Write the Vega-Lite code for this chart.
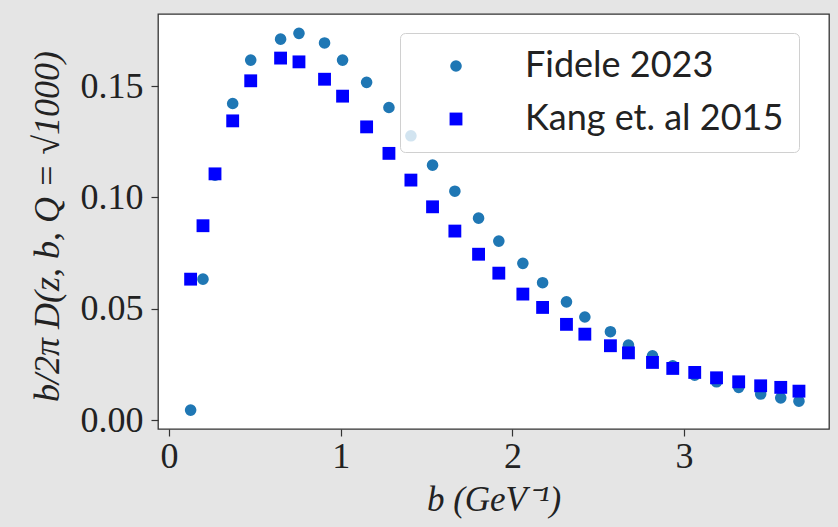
{
  "$schema": "https://vega.github.io/schema/vega-lite/v6.json",
  "width": 671,
  "height": 415,
  "autosize": "none",
  "padding": {"left": 158, "top": 14, "right": 9, "bottom": 98},
  "background": "#e5e5e5",
  "view": {"fill": "white", "stroke": "#333333", "strokeWidth": 1.3},
  "data": {
    "values": [
      {"s": "Fidele 2023", "b": 0.126, "v": 0.0045}, {"s": "Fidele 2023", "b": 0.198, "v": 0.0633}, {"s": "Fidele 2023", "b": 0.268, "v": 0.1100},
      {"s": "Fidele 2023", "b": 0.371, "v": 0.1422}, {"s": "Fidele 2023", "b": 0.476, "v": 0.1617}, {"s": "Fidele 2023", "b": 0.650, "v": 0.1711},
      {"s": "Fidele 2023", "b": 0.757, "v": 0.1737}, {"s": "Fidele 2023", "b": 0.906, "v": 0.1694}, {"s": "Fidele 2023", "b": 1.011, "v": 0.1617},
      {"s": "Fidele 2023", "b": 1.151, "v": 0.1517}, {"s": "Fidele 2023", "b": 1.281, "v": 0.1404}, {"s": "Fidele 2023", "b": 1.409, "v": 0.1277},
      {"s": "Fidele 2023", "b": 1.535, "v": 0.1145}, {"s": "Fidele 2023", "b": 1.665, "v": 0.1028}, {"s": "Fidele 2023", "b": 1.803, "v": 0.0907},
      {"s": "Fidele 2023", "b": 1.921, "v": 0.0804}, {"s": "Fidele 2023", "b": 2.061, "v": 0.0704}, {"s": "Fidele 2023", "b": 2.176, "v": 0.0617},
      {"s": "Fidele 2023", "b": 2.315, "v": 0.0531}, {"s": "Fidele 2023", "b": 2.422, "v": 0.0463}, {"s": "Fidele 2023", "b": 2.571, "v": 0.0397},
      {"s": "Fidele 2023", "b": 2.676, "v": 0.0337}, {"s": "Fidele 2023", "b": 2.816, "v": 0.0289}, {"s": "Fidele 2023", "b": 2.934, "v": 0.0244},
      {"s": "Fidele 2023", "b": 3.062, "v": 0.0202}, {"s": "Fidele 2023", "b": 3.189, "v": 0.0172}, {"s": "Fidele 2023", "b": 3.318, "v": 0.0147},
      {"s": "Fidele 2023", "b": 3.446, "v": 0.0117}, {"s": "Fidele 2023", "b": 3.563, "v": 0.0100}, {"s": "Fidele 2023", "b": 3.669, "v": 0.0085},
      {"s": "Kang et. al 2015", "b": 0.126, "v": 0.0633}, {"s": "Kang et. al 2015", "b": 0.198, "v": 0.0873}, {"s": "Kang et. al 2015", "b": 0.268, "v": 0.1106},
      {"s": "Kang et. al 2015", "b": 0.371, "v": 0.1344}, {"s": "Kang et. al 2015", "b": 0.476, "v": 0.1524}, {"s": "Kang et. al 2015", "b": 0.650, "v": 0.1626},
      {"s": "Kang et. al 2015", "b": 0.757, "v": 0.1609}, {"s": "Kang et. al 2015", "b": 0.906, "v": 0.1531}, {"s": "Kang et. al 2015", "b": 1.011, "v": 0.1455},
      {"s": "Kang et. al 2015", "b": 1.151, "v": 0.1317}, {"s": "Kang et. al 2015", "b": 1.281, "v": 0.1198}, {"s": "Kang et. al 2015", "b": 1.409, "v": 0.1078},
      {"s": "Kang et. al 2015", "b": 1.535, "v": 0.0958}, {"s": "Kang et. al 2015", "b": 1.665, "v": 0.0849}, {"s": "Kang et. al 2015", "b": 1.803, "v": 0.0745},
      {"s": "Kang et. al 2015", "b": 1.921, "v": 0.0660}, {"s": "Kang et. al 2015", "b": 2.061, "v": 0.0566}, {"s": "Kang et. al 2015", "b": 2.176, "v": 0.0506},
      {"s": "Kang et. al 2015", "b": 2.315, "v": 0.0430}, {"s": "Kang et. al 2015", "b": 2.422, "v": 0.0386}, {"s": "Kang et. al 2015", "b": 2.571, "v": 0.0334},
      {"s": "Kang et. al 2015", "b": 2.676, "v": 0.0302}, {"s": "Kang et. al 2015", "b": 2.816, "v": 0.0259}, {"s": "Kang et. al 2015", "b": 2.934, "v": 0.0232},
      {"s": "Kang et. al 2015", "b": 3.062, "v": 0.0214}, {"s": "Kang et. al 2015", "b": 3.189, "v": 0.0190}, {"s": "Kang et. al 2015", "b": 3.318, "v": 0.0172},
      {"s": "Kang et. al 2015", "b": 3.446, "v": 0.0154}, {"s": "Kang et. al 2015", "b": 3.563, "v": 0.0147}, {"s": "Kang et. al 2015", "b": 3.669, "v": 0.0130}
    ]
  },
  "mark": {"type": "point", "filled": true, "opacity": 1, "strokeWidth": 0},
  "encoding": {
    "x": {
      "field": "b", "type": "quantitative",
      "scale": {"domain": [-0.064, 3.844], "nice": false, "zero": false},
      "axis": {"values": [0, 1, 2, 3], "format": "d", "title": "b (GeV⁻¹)", "titleY": 81, "titleBaseline": "alphabetic", "titleFontSize": 35}
    },
    "y": {
      "field": "v", "type": "quantitative",
      "scale": {"domain": [-0.004, 0.1824], "nice": false, "zero": false},
      "axis": {"values": [0, 0.05, 0.1, 0.15], "format": ".2f", "title": "b/2π D(z, b, Q = √1000)", "titleX": -100, "titleY": 212, "titleBaseline": "alphabetic", "titleFontSize": 36}
    },
    "color": {
      "field": "s", "type": "nominal",
      "scale": {"domain": ["Fidele 2023", "Kang et. al 2015"], "range": ["#1f77b4", "#0000ff"]},
      "legend": {"title": null}
    },
    "shape": {
      "field": "s", "type": "nominal",
      "scale": {"domain": ["Fidele 2023", "Kang et. al 2015"], "range": ["circle", "square"]},
      "legend": {"title": null}
    },
    "size": {
      "field": "s", "type": "nominal",
      "scale": {"domain": ["Fidele 2023", "Kang et. al 2015"], "range": [135, 165]},
      "legend": null
    }
  },
  "config": {
    "axis": {
      "grid": false, "domain": false,
      "tickColor": "#333333", "tickSize": 7, "tickWidth": 1.2,
      "labelFont": "Liberation Serif", "labelFontSize": 36, "labelColor": "#222222",
      "titleFont": "Liberation Serif", "titleFontSize": 34, "titleFontStyle": "italic", "titleFontWeight": "normal", "titleColor": "#222222"
    },
    "axisX": {"labelPadding": 3},
    "axisY": {"labelPadding": 8},
    "legend": {
      "orient": "none", "legendX": 242, "legendY": 19, "direction": "vertical",
      "fillColor": "rgba(255,255,255,0.8)", "strokeColor": "#d0d0d0", "cornerRadius": 5,
      "padding": 15, "labelFont": "Lato", "labelFontSize": 36, "labelColor": "#222222", "labelLimit": 500,
      "symbolSize": 170, "symbolOffset": 23, "labelOffset": 51, "rowPadding": 17,
      "symbolStrokeWidth": 0
    }
  }
}
